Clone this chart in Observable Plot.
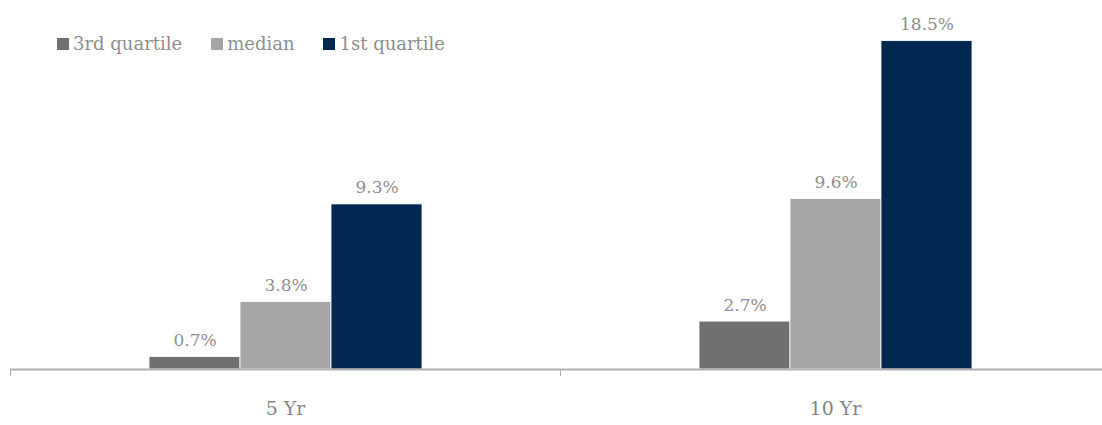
<!DOCTYPE html>
<html>
<head>
<meta charset="utf-8">
<script src="https://cdn.jsdelivr.net/npm/d3@7"></script>
<script src="https://cdn.jsdelivr.net/npm/@observablehq/plot@0.6"></script>
<style>
  body { margin: 0; background: #fff; }
  #wrap { position: relative; width: 1102px; height: 425px; font-family: "DejaVu Serif", serif; }
  #legend { position: absolute; left: 57px; top: 33px; display: flex; align-items: center; font-size: 18px; color: #8f8f8f; }
  .item { display: flex; align-items: center; margin-right: 29px; }
  .sw { width: 12px; height: 12px; margin-right: 4px; }
</style>
</head>
<body>
<div id="wrap"><div id="legend"></div></div>
<script>
const periods = ["5 Yr", "10 Yr"];
const series = ["3rd quartile", "median", "1st quartile"];
const thirdQuartile = [0.7, 2.7];
const median = [3.8, 9.6];
const firstQuartile = [9.3, 18.5];
const colors = ["#707070", "#a6a6a6", "#002850"];

const values = [thirdQuartile, median, firstQuartile];
const data = [];
periods.forEach((p, i) => series.forEach((s, j) => data.push({period: p, series: s, value: values[j][i]})));

const chart = Plot.plot({
  width: 1102,
  height: 425,
  marginTop: 14,
  marginBottom: 56,
  marginLeft: 10,
  marginRight: 0,
  style: {fontFamily: "DejaVu Serif, serif", background: "white"},
  fx: {domain: periods, range: [10, 1110], paddingInner: 0, paddingOuter: 0, label: null},
  x: {domain: series, paddingInner: 0, paddingOuter: 1.5, axis: null},
  y: {domain: [0, 20], axis: null},
  color: {domain: series, range: colors},
  marks: [
    Plot.barY(data, {fx: "period", x: "series", y: "value", fill: "series", stroke: "#ffffff", strokeWidth: 0.8}),
    Plot.text(data, {fx: "period", x: "series", y: "value", text: d => d.value.toFixed(1) + "%",
      dy: -11, lineAnchor: "bottom", fill: "#8f8f8f", fontSize: 17}),
    Plot.ruleY([0], {stroke: "#b0b0b0", strokeWidth: 2}),
    Plot.axisFx({anchor: "bottom", tickSize: 0, tickPadding: 32, fontSize: 19, fill: "#858585", label: null})
  ]
});

// boundary ticks at facet band edges
const fx = chart.scale("fx");
const edges = fx.domain.map(d => fx.apply(d));
edges.push(fx.apply(fx.domain[fx.domain.length - 1]) + fx.bandwidth);
const yScale = chart.scale("y");
const y0 = yScale.apply(0);
d3.select(chart).append("g")
  .selectAll("line").data(edges).join("line")
  .attr("x1", d => d + 0.5).attr("x2", d => d + 0.5)
  .attr("y1", y0).attr("y2", y0 + 7)
  .attr("stroke", "#b0b0b0").attr("stroke-width", 1);

document.getElementById("wrap").prepend(chart);

const legend = d3.select("#legend");
series.forEach((s, i) => {
  const it = legend.append("div").attr("class", "item");
  it.append("div").attr("class", "sw").style("background", colors[i]);
  it.append("span").text(s);
});
</script>
</body>
</html>
